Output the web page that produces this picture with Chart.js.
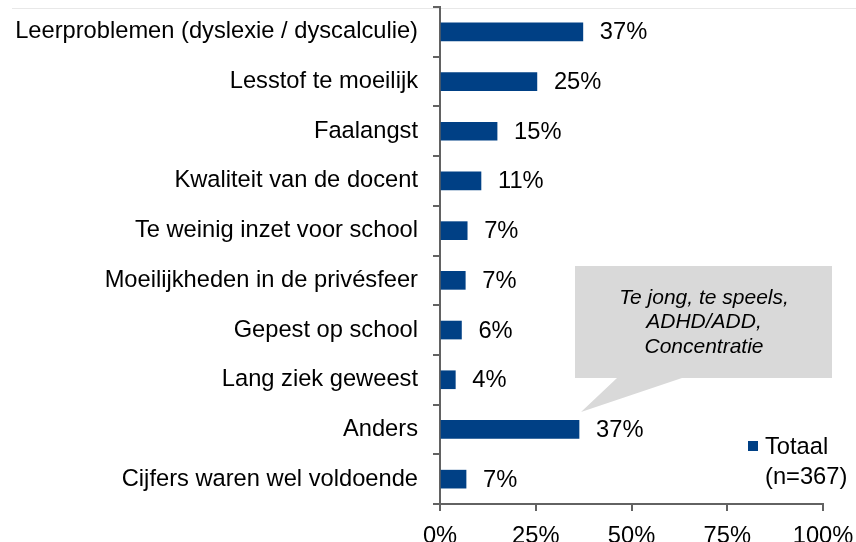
<!DOCTYPE html>
<html lang="nl">
<head>
    <meta charset="UTF-8">
    <title>Redenen</title>
    <script src="https://cdnjs.cloudflare.com/ajax/libs/Chart.js/4.4.1/chart.umd.min.js"></script>
    <style>
        body { margin: 0; padding: 0; background: #fff; }
        canvas { display: block; }
    </style>
</head>
<body>
    <canvas id="chart" width="856" height="542"></canvas>

    <script>
        // chart data
        const categories = [
            'Leerproblemen (dyslexie / dyscalculie)',
            'Lesstof te moeilijk',
            'Faalangst',
            'Kwaliteit van de docent',
            'Te weinig inzet voor school',
            'Moeilijkheden in de privésfeer',
            'Gepest op school',
            'Lang ziek geweest',
            'Anders',
            'Cijfers waren wel voldoende'
        ];
        const values = [37.3, 25.3, 14.9, 10.7, 7.1, 6.6, 5.6, 4.0, 36.3, 6.8];
        const valueLabels = ['37%', '25%', '15%', '11%', '7%', '7%', '6%', '4%', '37%', '7%'];
        const xTicks = [0, 25, 50, 75, 100];
        const seriesName = ['Totaal', '(n=367)'];
        const calloutLines = ['Te jong, te speels,', 'ADHD/ADD,', 'Concentratie'];

        const FONT = '"Liberation Sans", Arial, sans-serif';
        const SIZE = 23.7;
        const BLUE = '#004085';
        const AXIS = '#626262';

        const overlay = {
            id: 'overlay',
            beforeDraw(chart) {
                const ctx = chart.ctx;
                ctx.save();
                ctx.strokeStyle = '#e8e8e8';
                ctx.lineWidth = 1;
                ctx.beginPath();
                ctx.moveTo(12, 8.5);
                ctx.lineTo(856, 8.5);
                ctx.stroke();
                ctx.restore();
            },
            afterDatasetsDraw(chart) {
                const ctx = chart.ctx;
                const meta = chart.getDatasetMeta(0);
                ctx.save();
                ctx.font = SIZE + 'px ' + FONT;
                ctx.fillStyle = '#000';
                ctx.textAlign = 'left';
                ctx.textBaseline = 'middle';
                meta.data.forEach((bar, i) => {
                    ctx.fillText(valueLabels[i], bar.x + 17, bar.y + 1);
                });

                // callout
                ctx.fillStyle = '#d9d9d9';
                ctx.beginPath();
                ctx.moveTo(575, 266);
                ctx.lineTo(832, 266);
                ctx.lineTo(832, 378);
                ctx.lineTo(682, 378);
                ctx.lineTo(581, 412);
                ctx.lineTo(617, 378);
                ctx.lineTo(575, 378);
                ctx.closePath();
                ctx.fill();
                ctx.fillStyle = '#000';
                ctx.font = 'italic 21px ' + FONT;
                ctx.textAlign = 'center';
                calloutLines.forEach((t, i) => {
                    ctx.fillText(t, 704, 298 + i * 24.5);
                });

                // legend
                ctx.fillStyle = BLUE;
                ctx.fillRect(748, 441, 10, 10);
                ctx.fillStyle = '#000';
                ctx.font = SIZE + 'px ' + FONT;
                ctx.textAlign = 'left';
                ctx.fillText(seriesName[0], 765, 447);
                ctx.fillText(seriesName[1], 765, 477);
                ctx.restore();
            }
        };

        new Chart(document.getElementById('chart'), {
            type: 'bar',
            data: {
                labels: categories,
                datasets: [{
                    label: seriesName.join(' '),
                    data: values,
                    backgroundColor: BLUE,
                    barThickness: 18
                }]
            },
            options: {
                indexAxis: 'y',
                responsive: false,
                animation: false,
                layout: { padding: { top: 7, right: 33, bottom: 0, left: 0 } },
                plugins: {
                    legend: { display: false },
                    tooltip: { enabled: false }
                },
                scales: {
                    x: {
                        min: 0,
                        max: 100,
                        afterBuildTicks: s => { s.ticks = xTicks.map(v => ({ value: v })); },
                        afterFit: s => { s.height = 38; s.paddingLeft = 0; s.paddingRight = 0; },
                        grid: { drawOnChartArea: false, tickLength: 7, color: AXIS, lineWidth: 2 },
                        border: { color: AXIS, width: 2 },
                        ticks: {
                            color: '#000',
                            padding: 11,
                            font: { size: SIZE, family: FONT },
                            callback: v => v + '%'
                        }
                    },
                    y: {
                        afterFit: s => { s.width = 440; s.paddingTop = 0; s.paddingBottom = 0; },
                        grid: { drawOnChartArea: false, tickLength: 7, color: AXIS, lineWidth: 2 },
                        border: { color: AXIS, width: 2 },
                        ticks: {
                            color: '#000',
                            padding: 15,
                            font: { size: SIZE, family: FONT }
                        }
                    }
                }
            },
            plugins: [overlay]
        });
    </script>
</body>
</html>
